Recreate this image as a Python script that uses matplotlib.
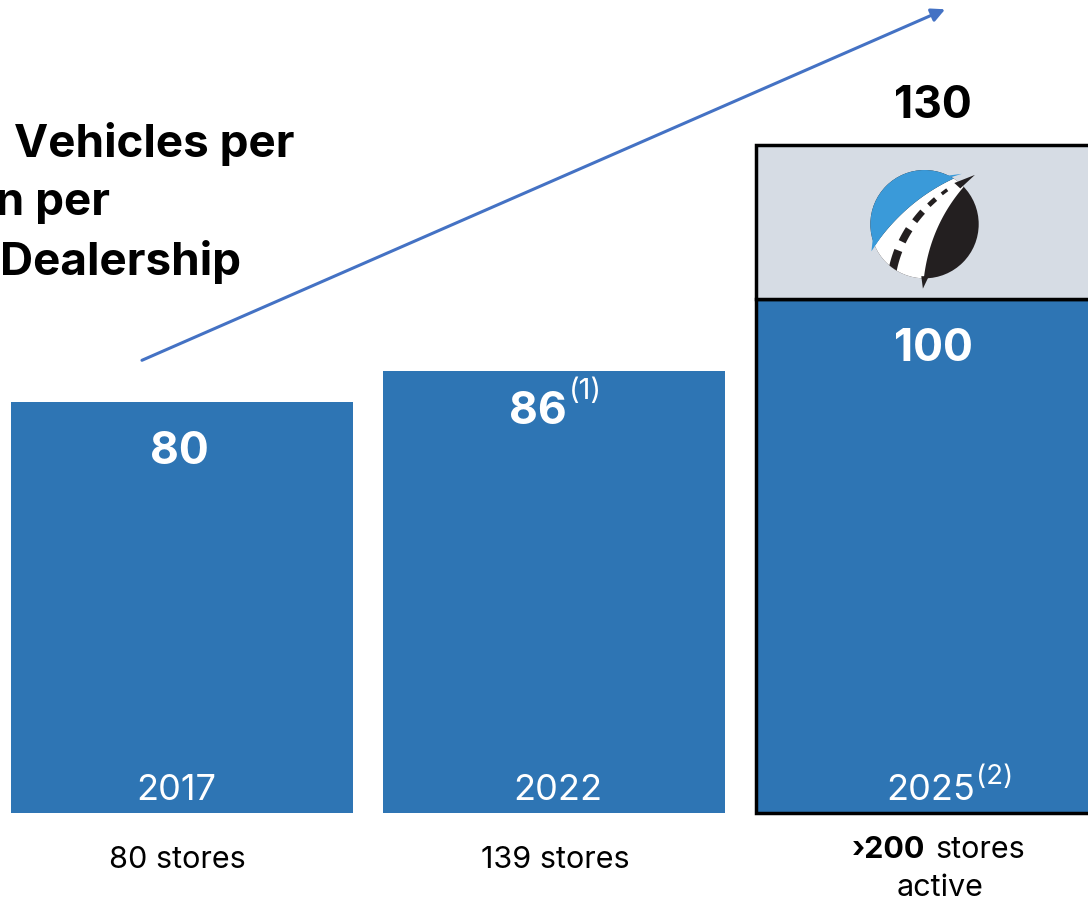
import numpy as np
import matplotlib.pyplot as plt
from matplotlib.patches import Circle, Polygon

# bar data
years = ["2017", "2022", "2025"]
year_notes = ["", "", "(2)"]
vehicles = [80, 86, 100]
value_notes = ["", "(1)", ""]
target_2025 = 130
store_labels = ["80 stores", "139 stores"]
store_2025_bold = "\u203a200"
store_2025_rest = "stores"
store_2025_line2 = "active"
title_lines = ["Vehicles per", "Salesperson per", "Dealership"]

BLUE = "#2E75B4"
GREY = "#D6DCE4"
ARROW = "#4472C4"
SKY = "#3A9AD9"
BLACK = "#231F20"

plt.rcParams['font.family'] = ['Inter', 'DejaVu Sans']

fig = plt.figure(figsize=(10.88, 9.04), dpi=100)
ax = fig.add_axes([0, 0, 1, 1])
ax.set_xlim(-0.489, 2.435)
ax.set_ylim(-17.5, 158.4)
ax.axis('off')

x = np.arange(len(years))
width = 0.917

# plain bars for the past years, outlined stack for the target year
ax.bar(x[:2], vehicles[:2], width, color=BLUE)
ax.bar(x[2], vehicles[2], width, color=BLUE, edgecolor='black', linewidth=2.5)
ax.bar(x[2], target_2025 - vehicles[2], width, bottom=vehicles[2],
       color=GREY, edgecolor='black', linewidth=2.5)

# value labels inside the bars
for i, v in enumerate(vehicles):
    dx = -12 if value_notes[i] else (5 if i == 2 else -2)
    dy = -29 if value_notes[i] else -35
    t = ax.annotate(str(v), (x[i], v), xytext=(dx, dy), textcoords='offset points',
                    ha='center', va='center', color='white', fontsize=32,
                    fontweight='bold')
    if value_notes[i]:
        ax.annotate(value_notes[i], xy=(1, 1.0), xycoords=t, xytext=(2, 0),
                    textcoords='offset points', ha='left', va='center',
                    color='white', fontsize=21)

ax.annotate(str(target_2025), (x[2], target_2025), xytext=(5, 29),
            textcoords='offset points', ha='center', va='center',
            fontsize=32, fontweight='bold', color='black')

# year labels at the foot of each bar
for i, yr in enumerate(years):
    dx = [-4, 3, 3][i]
    t = ax.annotate(yr, (x[i], 0), xytext=(dx, 17), textcoords='offset points',
                    ha='center', va='center', color='white', fontsize=26)
    if year_notes[i]:
        ax.annotate(year_notes[i], xy=(1, 0.9), xycoords=t, xytext=(1, 0),
                    textcoords='offset points', ha='left', va='center',
                    color='white', fontsize=20)

# store counts under the bars
for i, lab in enumerate(store_labels):
    ax.annotate(lab, (x[i], 0), xytext=(-3 if i == 0 else 1, -33),
                textcoords='offset points', ha='center', va='center', fontsize=22)
ax.annotate(store_2025_bold, (x[2], 0), xytext=(-1, -26), textcoords='offset points',
            ha='right', va='center', fontsize=22, fontweight='bold')
ax.annotate(store_2025_rest, (x[2], 0), xytext=(7, -26), textcoords='offset points',
            ha='left', va='center', fontsize=22)
ax.annotate(store_2025_line2, (x[2], 0), xytext=(10, -53), textcoords='offset points',
            ha='center', va='center', fontsize=22)

# growth arrow
ax.annotate('', xy=(2.051, 156.4), xytext=(-0.1075, 88.1),
            arrowprops=dict(arrowstyle='-|>', color=ARROW, lw=2.2,
                            mutation_scale=20, shrinkA=0, shrinkB=0))

# heading, right-aligned per line
for line, xr, yb in zip(title_lines, [295, 110, 241], [157, 215, 275]):
    fig.text(xr / 1088, 1 - yb / 904, line, ha='right', va='baseline',
             fontsize=33, fontweight='bold')

# road logo in the grey block
lax = fig.add_axes([0.790, 0.679, 0.1195, 0.1438])
lax.set_xlim(-1.2, 1.2)
lax.set_ylim(-1.2, 1.2)
lax.set_aspect('equal')
lax.axis('off')


def bez(p0, p1, p2, n=60):
    t = np.linspace(0, 1, n)[:, None]
    p0, p1, p2 = map(np.asarray, (p0, p1, p2))
    return (1 - t) ** 2 * p0 + 2 * (1 - t) * t * p1 + t ** 2 * p2


lax.add_patch(Circle((0, 0), 1.0, fc=BLACK, ec='none'))
clip = Circle((0, 0), 1.0, transform=lax.transData)

left_edge = bez((-0.93, -0.41), (-0.3, 0.5), (0.69, 0.91))
right_edge = bez((-0.03, -1.19), (0.05, 0.05), (0.93, 0.91))

road = Polygon(np.vstack([left_edge, right_edge[::-1],
                          [(-0.03, -1.3), (-1.3, -1.3), (-1.3, -0.41)]]),
               fc='white', ec='none')
lax.add_patch(road)
road.set_clip_path(clip)

sky = Polygon(np.vstack([left_edge, [(0.69, 1.3), (-1.3, 1.3), (-1.3, -0.41)]]),
              fc=SKY, ec='none')
lax.add_patch(sky)
sky.set_clip_path(clip)

# spikes poking out of the disc
lax.add_patch(Polygon([(0.55, 0.76), (0.93, 0.91), (0.66, 0.66)], fc=BLACK, ec='none'))
lax.add_patch(Polygon([(0.30, 0.88), (0.69, 0.93), (0.40, 0.84)], fc=SKY, ec='none'))
lax.add_patch(Polygon([(-0.06, -0.96), (-0.03, -1.19), (0.08, -0.96)], fc=BLACK, ec='none'))
lax.add_patch(Polygon([(-0.95, -0.22), (-0.78, -0.2), (-0.98, -0.5)], fc=SKY, ec='none'))

# lane dashes
centre = bez((-0.6, -0.9), (-0.4, 0.2), (0.8, 0.88), n=200)
for (a, b), lw in zip([(0.02, 0.2), (0.28, 0.4), (0.48, 0.58), (0.65, 0.72), (0.78, 0.83)],
                      [6, 5.5, 4.5, 3.5, 2.5]):
    seg = centre[int(a * 199):int(b * 199) + 1]
    ln, = lax.plot(seg[:, 0], seg[:, 1], color=BLACK, lw=lw, solid_capstyle='butt')
    ln.set_clip_path(clip)

fig.savefig("out.png", dpi=100)
